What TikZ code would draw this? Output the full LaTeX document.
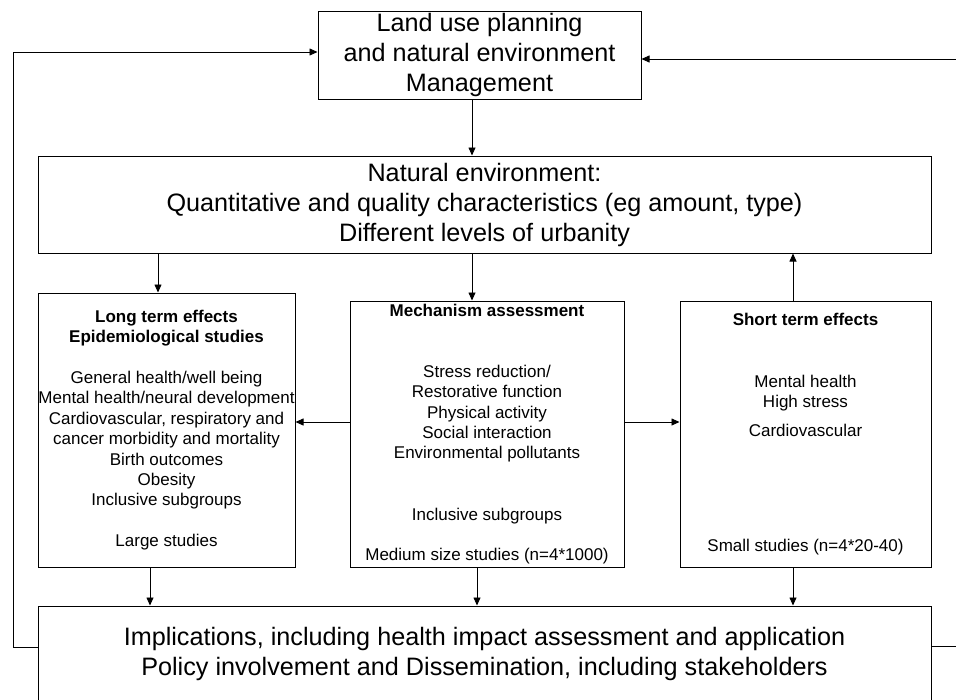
\documentclass[tikz,border=0pt]{standalone}
\usepackage{fontspec}
\setmainfont{Liberation Sans}
\usetikzlibrary{arrows.meta}

\tikzset{
  box/.style={draw, line width=1pt, inner sep=0pt, align=center},
  bigtxt/.style={font=\fontsize{25.2}{30}\selectfont},
  smalltxt/.style={font=\fontsize{17}{20.4}\selectfont},
  link/.style={->, line width=0.8pt},
}

\begin{document}
\begin{tikzpicture}[x=1pt, y=-1pt, >={Triangle[length=8pt,width=7pt]}]
        \useasboundingbox (0,0) rectangle (956,699);

        % boxes
        \node[box, bigtxt, minimum width=323pt, minimum height=88pt] (land) at (479.5,55)
            {Land use planning\\ and natural environment\\ Management};
        \node[box, bigtxt, minimum width=893pt, minimum height=97pt] (natenv) at (484.5,204.5)
            {Natural environment:\\ Quantitative and quality characteristics (eg amount, type)\\ Different levels of urbanity};

        \node[box, smalltxt, minimum width=257pt, minimum height=274pt] (longterm) at (166.5,430)
            {\textbf{Long term effects}\\ \textbf{Epidemiological studies}\\[20.4pt]
             General health/well being\\ Mental health/neural development\\
             Cardiovascular, respiratory and\\ cancer morbidity and mortality\\
             Birth outcomes\\ Obesity\\ Inclusive subgroups\\[20.4pt] Large studies};
        \node[box, smalltxt, minimum width=274pt, minimum height=266pt] (mech) at (487,434)
            {\textbf{Mechanism assessment}\\[40.8pt]
             Stress reduction/\\ Restorative function\\ Physical activity\\
             Social interaction\\ Environmental pollutants\\[40.8pt]
             Inclusive subgroups\\[20.4pt] Medium size studies (n=4*1000)};
        \node[box, smalltxt, minimum width=251pt, minimum height=266pt] (shortterm) at (805.5,434)
            {\textbf{Short term effects}\\[40.8pt]
             Mental health\\ High stress\\[8.2pt] Cardiovascular\\[94.6pt]
             Small studies (n=4*20-40)};

        \node[box, bigtxt, minimum width=893pt, minimum height=96pt] (impl) at (484.5,654)
            {Implications, including health impact assessment and application\\
             Policy involvement and Dissemination, including stakeholders};

        % lanes for the connectors
        \coordinate (topx) at (472,0);
        \coordinate (lx) at (158,0);
        \coordinate (lx2) at (150,0);
        \coordinate (mx2) at (477,0);
        \coordinate (sx) at (793,0);
        \coordinate (midy) at (0,422);
        \coordinate (loopl) at (13,647);
        \coordinate (loopr) at (962,646);
        \coordinate (lefty) at (0,52);
        \coordinate (righty) at (0,59);

        \draw[link] (land.south -| topx) -- (natenv.north -| topx);
        \draw[link] (natenv.south -| lx) -- (longterm.north -| lx);
        \draw[link] (natenv.south -| topx) -- (mech.north -| topx);
        \draw[link] (shortterm.north -| sx) -- (natenv.south -| sx);

        \draw[link] (mech.west |- midy) -- (longterm.east |- midy);
        \draw[link] (mech.east |- midy) -- (shortterm.west |- midy);

        \draw[link] (longterm.south -| lx2) -- (impl.north -| lx2);
        \draw[link] (mech.south -| mx2) -- (impl.north -| mx2);
        \draw[link] (shortterm.south -| sx) -- (impl.north -| sx);

        % feedback loops
        \draw[link] (impl.west |- loopl) -- (loopl) |- (land.west |- lefty);
        \draw[link] (impl.east |- loopr) -- (loopr) |- (land.east |- righty);
\end{tikzpicture}
\end{document}
